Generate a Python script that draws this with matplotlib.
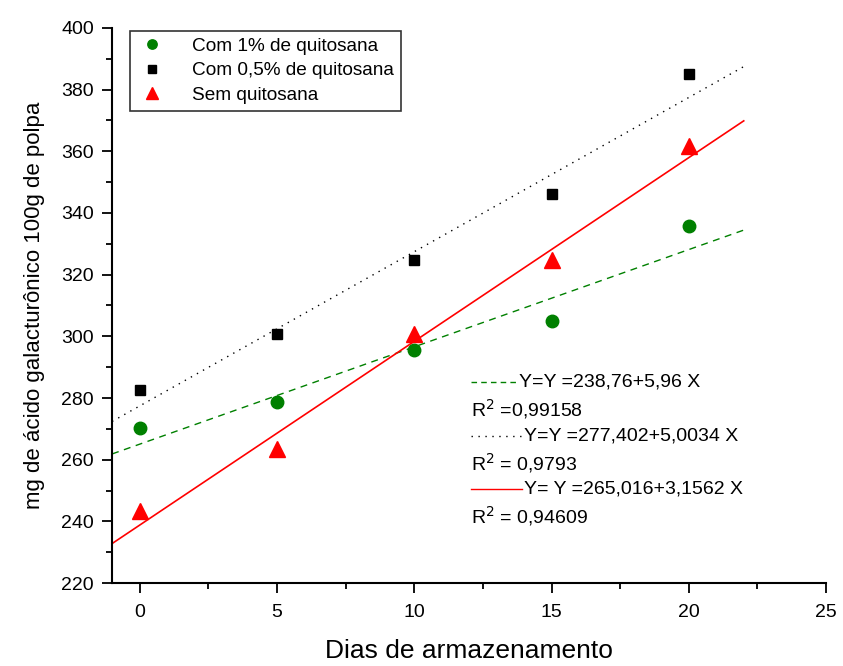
import matplotlib.pyplot as plt
import numpy as np

plt.rcParams['font.family'] = ['Liberation Sans', 'DejaVu Sans']

dias = [0, 5, 10, 15, 20]
com_1 = [270.2, 278.6, 295.6, 305.1, 335.8]
com_05 = [282.6, 300.6, 324.6, 346.3, 385.0]
sem = [243.2, 263.6, 300.6, 324.6, 361.6]

# fitted lines (intercept, slope)
fit_1 = (265.016, 3.1562)
fit_05 = (277.402, 5.0034)
fit_sem = (238.76, 5.96)

eq_labels = ['Y=Y =238,76+5,96 X', 'R$^2$ =0,99158',
             'Y=Y =277,402+5,0034 X', 'R$^2$ = 0,9793',
             'Y= Y =265,016+3,1562 X', 'R$^2$ = 0,94609']

fig = plt.figure(figsize=(8.43, 6.66), dpi=100)
ax = fig.add_axes([0.133, 0.1246, 0.847, 0.8334])

xl = np.array([-1, 22])
ax.plot(xl, fit_1[0] + fit_1[1] * xl, '--', color='green', lw=1, dashes=(5, 4))
ax.plot(xl, fit_05[0] + fit_05[1] * xl, ':', color='black', lw=1, dashes=(1, 4))
ax.plot(xl, fit_sem[0] + fit_sem[1] * xl, '-', color='red', lw=1.2)

ax.plot(dias, com_1, 'o', color='green', ms=9, label='Com 1% de quitosana')
ax.plot(dias, com_05, 's', color='black', ms=7, label='Com 0,5% de quitosana')
ax.plot(dias, sem, '^', color='red', ms=12, label='Sem quitosana')

ax.set_xlim(-1, 25)
ax.set_ylim(220, 400)
ax.set_xticks([0, 5, 10, 15, 20, 25])
ax.set_xticks([2.5, 7.5, 12.5, 17.5, 22.5], minor=True)
ax.set_yticks(range(220, 401, 20))
ax.set_yticks(range(230, 400, 20), minor=True)
ax.tick_params(labelsize=14, width=1.3, length=7, direction='out')
ax.tick_params(axis='x', pad=8)
ax.tick_params(axis='y', pad=6)
ax.tick_params(which='minor', width=1.3, length=4.5, direction='out')
for s in ['top', 'right']:
    ax.spines[s].set_visible(False)
for s in ['left', 'bottom']:
    ax.spines[s].set_linewidth(1.5)

ax.set_xlabel('Dias de armazenamento', fontsize=19, labelpad=13)
ax.set_ylabel('mg de ácido galacturônico 100g de polpa', fontsize=16, labelpad=12)

leg = ax.legend(loc='upper left', bbox_to_anchor=(0.012, 1.012), fontsize=13.7,
                frameon=True, fancybox=False, edgecolor='black', markerscale=0.75,
                handletextpad=1.3, borderpad=0.35, labelspacing=0.38, handlelength=1.6)
leg.get_frame().set_linewidth(1.2)

# equation block
def ax_xy(px, py):
    return (px - 112) / 714, (583 - py) / 555

samples = [('--', 'green', (4, 3)), (':', 'black', (1, 4)), ('-', 'red', None)]
rows_y = [382, 409, 436, 463, 489, 516]
text_x = [519, 471, 524, 471, 524, 471]
for i, (ls, c, d) in enumerate(samples):
    y = rows_y[2 * i]
    x0, yy = ax_xy(471, y)
    x1, _ = ax_xy(text_x[2 * i] - 2, y)
    ln, = ax.plot([x0, x1], [yy, yy], ls, color=c, lw=1, transform=ax.transAxes, clip_on=False)
    if d:
        ln.set_dashes(d)
for lab, px, py in zip(eq_labels, text_x, rows_y):
    x, y = ax_xy(px, py)
    ax.text(x, y, lab, transform=ax.transAxes, fontsize=14, va='center', ha='left')

fig.savefig('out.png', dpi=100)
